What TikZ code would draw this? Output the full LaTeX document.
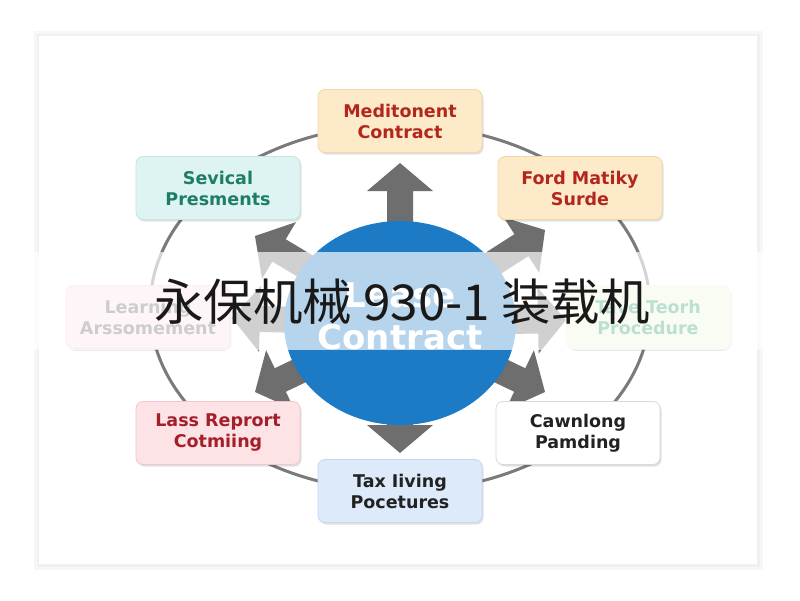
\documentclass[tikz,border=0pt]{standalone}
\usepackage{fontspec}
\setmainfont{DejaVu Sans}
\newfontfamily\cjk{Noto Sans CJK SC}
\usetikzlibrary{calc,shadows,shapes.geometric}
\definecolor{ringgray}{HTML}{7A7A7A}
\definecolor{arrowgray}{HTML}{6E6E6E}
\definecolor{hubblue}{HTML}{1C7BC4}
\definecolor{orfill}{HTML}{FDEAC9}
\definecolor{ordraw}{HTML}{F2D6A8}
\definecolor{redtext}{HTML}{B3261E}
\definecolor{cyfill}{HTML}{DDF4F2}
\definecolor{cydraw}{HTML}{C4E5E2}
\definecolor{tealtext}{HTML}{1E7D66}
\definecolor{pkfill}{HTML}{FDE2E6}
\definecolor{pkdraw}{HTML}{F3C6CD}
\definecolor{pktext}{HTML}{A3202A}
\definecolor{lpfill}{HTML}{FBE3E8}
\definecolor{grtext}{HTML}{666666}
\definecolor{ygfill}{HTML}{EEF7D8}
\definecolor{ygtext}{HTML}{2E9C6E}
\definecolor{blfill}{HTML}{DCEAF9}
\definecolor{bldraw}{HTML}{C3D8EF}
\definecolor{darktext}{HTML}{222222}
\tikzset{
  card/.style={rounded corners=7pt, minimum width=164pt, minimum height=63pt,
    align=center, font=\fontsize{17.5}{21}\selectfont\bfseries, line width=0.8pt,
    drop shadow={shadow xshift=1.5pt, shadow yshift=-2pt, opacity=0.12, fill=black}},
  ring/.style={draw=ringgray, line width=3pt},
}
\newcommand\blockarrow[2]{%
  \path coordinate (hh) at ($(#2)!28pt!(#1)$);
  \fill[arrowgray] ($(#1)!13pt!90:(#2)$) -- ($(hh)!13pt!90:(#2)$) -- ($(hh)!33pt!90:(#2)$)
    -- (#2) -- ($(hh)!33pt!-90:(#2)$) -- ($(hh)!13pt!-90:(#2)$) -- ($(#1)!13pt!-90:(#2)$) -- cycle;}
\begin{document}
\begin{tikzpicture}[x=1pt,y=-1pt]
\useasboundingbox (0,0) rectangle (800,600);
\fill[white] (0,0) rectangle (800,600);
% framed sheet with soft shadow
\fill[black!6] (36,33) rectangle (761,568);
\fill[black!3] (34,31) rectangle (763,570);
\fill[black!6] (37,34) rectangle (760,567);
\fill[white] (39,36) rectangle (757,564);
% ring
\draw[ring] (400,308) ellipse [x radius=250, y radius=183];
% arrows
\coordinate (hub) at (400,323);
\coordinate (tN) at (400,163);
\coordinate (tS) at (400,453);
\coordinate (tNW) at (255,236);
\coordinate (tNE) at (545,230);
\coordinate (tSW) at (255,392);
\coordinate (tSE) at (545,392);
\coordinate (tW) at (232,318);
\coordinate (tE) at (566,320);
\blockarrow{hub}{tN}
\blockarrow{hub}{tS}
\blockarrow{hub}{tNW}
\blockarrow{hub}{tNE}
\blockarrow{hub}{tSW}
\blockarrow{hub}{tSE}
\blockarrow{hub}{tW}
\blockarrow{hub}{tE}
% hub
\node[ellipse, fill=hubblue, minimum width=232pt, minimum height=204pt, inner sep=0pt] (center) at (400,323) {};
\node[text=white, font=\fontsize{34}{42}\selectfont\bfseries, align=center] (centertext) at (400,316) {Lease\\Contract};
% cards
\node[card, fill=orfill, draw=ordraw, text=redtext] (top) at (400,121) {Meditonent\\Contract};
\node[card, fill=cyfill, draw=cydraw, text=tealtext] (ul) at (218,188) {Sevical\\Presments};
\node[card, fill=orfill, draw=ordraw, text=redtext] (ur) at (580,188) {Ford Matiky\\Surde};
\node[card, fill=lpfill, draw=pkdraw, text=grtext] (left) at (148,317) {Learning\\Arssomement};
\node[card, fill=ygfill, draw=ygfill!80!black!20, text=ygtext] (right) at (648,317) {Tave Teorh\\Procedure};
\node[card, fill=pkfill, draw=pkdraw, text=pktext] (ll) at (218,433) {Lass Reprort\\Cotmiing};
\node[card, fill=white, draw=black!15, text=darktext] (lr) at (578,433) {Cawnlong\\Pamding};
\node[card, fill=blfill, draw=bldraw, text=darktext] (bottom) at (400,491) {Tax Iiving\\Pocetures};
% overlay band
\fill[white, opacity=0.68] (0,252) rectangle (800,350);
\node[text=black!90, font=\cjk\fontsize{49.5}{54}\selectfont] (title) at (402,302) {永保机械 930-1 装载机};
\end{tikzpicture}
\end{document}
